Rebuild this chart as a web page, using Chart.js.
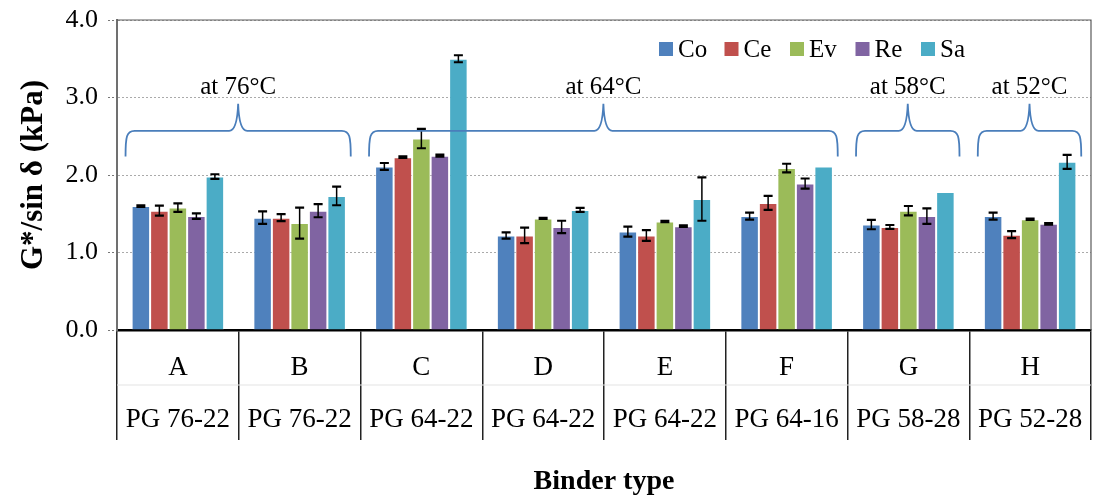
<!DOCTYPE html>
<html><head><meta charset="utf-8">
<script src="https://cdn.jsdelivr.net/npm/chart.js@4.4.1/dist/chart.umd.min.js"></script>
<style>html,body{margin:0;padding:0;background:#fff;overflow:hidden;}</style>
</head><body>
<canvas id="c" width="1096" height="498"></canvas>
<script>
const categories = [['A','PG 76-22'],['B','PG 76-22'],['C','PG 64-22'],['D','PG 64-22'],['E','PG 64-22'],['F','PG 64-16'],['G','PG 58-28'],['H','PG 52-28']];
const seriesNames = ['Co','Ce','Ev','Re','Sa'];
const co    = [1.60, 1.45, 2.11, 1.22, 1.27, 1.47, 1.36, 1.47];
const coErr = [0.01, 0.08, 0.045, 0.04, 0.065, 0.045, 0.06, 0.045];
const ce    = [1.54, 1.45, 2.23, 1.22, 1.22, 1.64, 1.33, 1.23];
const ceErr = [0.065, 0.045, 0.01, 0.10, 0.07, 0.09, 0.025, 0.045];
const ev    = [1.58, 1.38, 2.47, 1.44, 1.40, 2.09, 1.54, 1.43];
const evErr = [0.055, 0.20, 0.125, 0.008, 0.008, 0.055, 0.06, 0.008];
const re    = [1.47, 1.54, 2.25, 1.33, 1.34, 1.89, 1.47, 1.37];
const reErr = [0.035, 0.085, 0.012, 0.08, 0.01, 0.065, 0.10, 0.01];
const sa    = [1.98, 1.73, 3.50, 1.55, 1.69, 2.11, 1.78, 2.17];
const saErr = [0.03, 0.12, 0.045, 0.025, 0.28, 0, 0, 0.09];
const yTicks = [0, 1, 2, 3, 4];
const braces = [
  {from: 0, to: 1, label: 'at 76°C'},
  {from: 2, to: 5, label: 'at 64°C'},
  {from: 6, to: 6, label: 'at 58°C'},
  {from: 7, to: 7, label: 'at 52°C'}
];
const colors = ['#4F81BD', '#C0504D', '#9BBB59', '#8064A2', '#4BACC6'];
const values = [co, ce, ev, re, sa];
const errors = [coErr, ceErr, evErr, reErr, saErr];
const SERIF = '"Liberation Serif", "Times New Roman", serif';

const decor = {
  id: 'decor',
  beforeDatasetsDraw(chart) {
    const ctx = chart.ctx, a = chart.chartArea;
    ctx.save();
    ctx.strokeStyle = '#e3e3e3'; ctx.lineWidth = 1;
    ctx.beginPath(); ctx.moveTo(a.left, a.bottom + 55); ctx.lineTo(a.right, a.bottom + 55); ctx.stroke();
    ctx.strokeStyle = '#5a5a5a'; ctx.lineWidth = 1.2;
    ctx.beginPath(); ctx.moveTo(a.left, a.top); ctx.lineTo(a.right, a.top); ctx.lineTo(a.right, a.bottom); ctx.stroke();
    ctx.restore();
  },
  afterDatasetsDraw(chart) {
    const ctx = chart.ctx, xs = chart.scales.x, ys = chart.scales.y, a = chart.chartArea;
    ctx.save();
    // error bars
    chart.data.datasets.forEach((ds, di) => {
      const meta = chart.getDatasetMeta(di);
      meta.data.forEach((bar, i) => {
        const e = errors[di][i];
        if (!e) return;
        const v = ds.data[i];
        const yt = ys.getPixelForValue(v + e), yb = ys.getPixelForValue(v - e);
        ctx.strokeStyle = '#000';
        ctx.lineWidth = 1.5;
        ctx.beginPath(); ctx.moveTo(bar.x, yt); ctx.lineTo(bar.x, yb); ctx.stroke();
        ctx.lineWidth = 2.2;
        ctx.beginPath();
        ctx.moveTo(bar.x - 4.5, yt); ctx.lineTo(bar.x + 4.5, yt);
        ctx.moveTo(bar.x - 4.5, yb); ctx.lineTo(bar.x + 4.5, yb);
        ctx.stroke();
      });
    });
    // braces
    const w = xs.getPixelForValue(1) - xs.getPixelForValue(0);
    braces.forEach(b => {
      const xl = xs.getPixelForValue(b.from) - 0.43 * w;
      const xr = xs.getPixelForValue(b.to) + 0.42 * w;
      const xm = (xl + xr) / 2;
      const yEnd = ys.getPixelForValue(2.24), yMid = ys.getPixelForValue(2.57), yPeak = ys.getPixelForValue(2.92);
      const r = 9;
      ctx.strokeStyle = '#4A7EBB'; ctx.lineWidth = 1.8;
      ctx.beginPath();
      ctx.moveTo(xl, yEnd);
      ctx.bezierCurveTo(xl, yMid + 6, xl + 1, yMid, xl + r, yMid);
      ctx.lineTo(xm - r, yMid);
      ctx.quadraticCurveTo(xm - 1, yMid, xm, yPeak);
      ctx.quadraticCurveTo(xm + 1, yMid, xm + r, yMid);
      ctx.lineTo(xr - r, yMid);
      ctx.bezierCurveTo(xr - 1, yMid, xr, yMid + 6, xr, yEnd);
      ctx.stroke();
      ctx.fillStyle = '#000';
      ctx.font = '25px ' + SERIF;
      ctx.textAlign = 'center'; ctx.textBaseline = 'middle';
      ctx.fillText(b.label, xm, ys.getPixelForValue(3.13));
    });
    // legend
    ctx.font = '25px ' + SERIF;
    ctx.textAlign = 'left'; ctx.textBaseline = 'middle';
    const ly = a.top + 29;
    let lx = a.right - 432;
    seriesNames.forEach((n, i) => {
      ctx.fillStyle = colors[i];
      ctx.fillRect(lx, ly - 7, 14, 14);
      ctx.fillStyle = '#000';
      ctx.fillText(n, lx + 19, ly + 1);
      lx += 65.5;
    });
    ctx.restore();
  }
};

new Chart(document.getElementById('c'), {
  type: 'bar',
  data: {
    labels: categories,
    datasets: seriesNames.map((n, i) => ({
      label: n,
      data: values[i],
      backgroundColor: colors[i],
      borderColor: 'rgba(255,255,255,0.45)',
      borderWidth: 1,
      categoryPercentage: 0.76,
      barPercentage: 1.0
    }))
  },
  options: {
    responsive: false,
    animation: false,
    devicePixelRatio: 1,
    layout: {padding: {top: 20, right: 5, bottom: 0, left: 0}},
    plugins: {legend: {display: false}, tooltip: {enabled: false}},
    scales: {
      x: {
        offset: true,
        afterFit: s => { s.height = 168; s.paddingLeft = 0; s.paddingRight = 0; },
        grid: {display: true, drawOnChartArea: false, offset: true, tickLength: 110, color: '#222', lineWidth: 1.5},
        border: {color: '#000', width: 2.5},
        ticks: {font: {family: SERIF, size: 27, lineHeight: 1.96}, color: '#000', padding: -99, maxRotation: 0, autoSkip: false},
        title: {display: true, text: 'Binder type', color: '#000', font: {family: SERIF, size: 28, weight: 'bold', lineHeight: 1.15}, padding: {top: 0, bottom: 0}}
      },
      y: {
        min: 0, max: 4,
        afterBuildTicks: s => { s.ticks = yTicks.map(v => ({value: v})); },
        afterFit: s => { s.width = 117; s.paddingTop = 0; s.paddingBottom = 0; },
        ticks: {callback: v => Number(v).toFixed(1), font: {family: SERIF, size: 26}, color: '#000', padding: 10},
        grid: {color: '#aaaaaa', lineWidth: 1, tickLength: 9, tickColor: '#777', tickBorderDash: [2, 2]},
        border: {color: '#707070', width: 2, dash: [2, 2]},
        title: {display: true, text: 'G*/sin δ (kPa)', color: '#000', font: {family: SERIF, size: 31, weight: 'bold'}, padding: {top: 15, bottom: 0}}
      }
    }
  },
  plugins: [decor]
});
</script>
</body></html>
